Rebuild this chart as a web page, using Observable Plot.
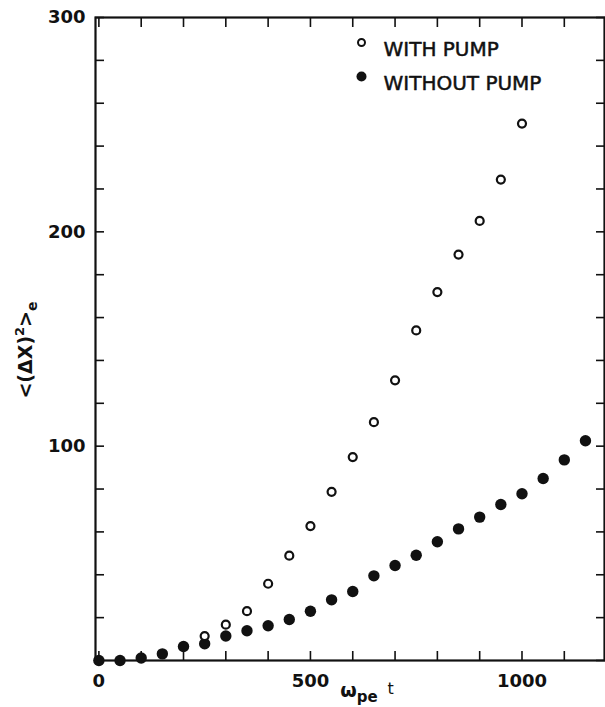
<!DOCTYPE html>
<html><head><meta charset="utf-8">
<script src="https://cdn.jsdelivr.net/npm/d3@7"></script>
<script src="https://cdn.jsdelivr.net/npm/@observablehq/plot@0.6"></script>
<style>body{margin:0;background:#fff}</style>
</head><body><div id="chart"></div>
<script>
// ω_pe t values and <(ΔX)^2>_e for each series
const withPumpT = [250, 300, 350, 400, 450, 500, 550, 600, 650, 700, 750, 800, 850, 900, 950, 1000];
const withPumpV = [11.4, 16.7, 23.0, 35.8, 48.9, 62.7, 78.7, 94.9, 111.2, 130.7, 154.0, 171.9, 189.4, 205.1, 224.4, 250.5];
const withoutPumpT = [0, 50, 100, 150, 200, 250, 300, 350, 400, 450, 500, 550, 600, 650, 700, 750, 800, 850, 900, 950, 1000, 1050, 1100, 1150];
const withoutPumpV = [0, 0, 1.2, 3.1, 6.5, 7.8, 11.4, 13.9, 16.2, 19.1, 23.0, 28.3, 32.2, 39.5, 44.3, 49.1, 55.4, 61.4, 66.9, 72.8, 77.8, 84.9, 93.6, 102.5];
const xTickLabels = [0, 500, 1000];
const yTickLabels = [100, 200, 300];
const legendLabels = ["WITH PUMP", "WITHOUT PUMP"];

const withPump = withPumpT.map((t, i) => ({t, v: withPumpV[i]}));
const withoutPump = withoutPumpT.map((t, i) => ({t, v: withoutPumpV[i]}));
const ink = "#111";
const blank = () => "";
const plain = d3.format("d");

const chart = Plot.plot({
  width: 605,
  height: 707,
  marginLeft: 95,
  marginRight: 1,
  marginTop: 17,
  marginBottom: 47,
  style: {fontFamily: "DejaVu Sans", fontWeight: "bold", fontSize: "18px", color: ink, background: "#fff"},
  x: {domain: [-8, 1195]},
  y: {domain: [0, 300]},
  marks: [
    Plot.axisX({anchor: "bottom", ticks: d3.range(0, 1201, 100), tickSize: -9, tickFormat: blank, label: null, strokeWidth: 1.6}),
    Plot.axisX({anchor: "top", ticks: d3.range(0, 1201, 100), tickSize: -9, tickFormat: blank, label: null, strokeWidth: 1.6}),
    Plot.axisY({anchor: "left", ticks: d3.range(0, 301, 20), tickSize: -9, tickFormat: blank, label: null, strokeWidth: 1.6}),
    Plot.axisY({anchor: "right", ticks: d3.range(0, 301, 20), tickSize: -9, tickFormat: blank, label: null, strokeWidth: 1.6}),
    Plot.axisX({anchor: "bottom", ticks: xTickLabels, tickSize: 0, tickPadding: 14, tickFormat: plain, label: null}),
    Plot.axisY({anchor: "left", ticks: yTickLabels, tickSize: 0, tickPadding: 10, tickFormat: plain, label: null}),
    Plot.frame({stroke: ink, strokeWidth: 2.2}),
    Plot.dot(withoutPump, {x: "t", y: "v", r: 5.7, fill: ink}),
    Plot.dot(withPump, {x: "t", y: "v", r: 4, stroke: ink, strokeWidth: 2.2, fill: "#fff"}),
    Plot.dot([legendLabels[0]], {frameAnchor: "top-left", dx: 266, dy: 25, r: 3.5, stroke: ink, strokeWidth: 2, fill: "#fff"}),
    Plot.dot([legendLabels[1]], {frameAnchor: "top-left", dx: 266, dy: 59, r: 5, fill: ink}),
    Plot.text([legendLabels[0]], {text: d => d, frameAnchor: "top-left", dx: 288, dy: 24, textAnchor: "start", fontSize: 20, fontWeight: "normal", fill: ink, stroke: ink, strokeWidth: 0.5}),
    Plot.text([legendLabels[1]], {text: d => d, frameAnchor: "top-left", dx: 288, dy: 58.5, textAnchor: "start", fontSize: 20, fontWeight: "normal", fill: ink, stroke: ink, strokeWidth: 0.5})
  ]
});

const svg = d3.select(chart);
// y-axis label <(ΔX)²>ₑ
const yl = svg.append("text")
  .attr("transform", "translate(32,350) rotate(-90)")
  .attr("text-anchor", "middle")
  .attr("fill", ink)
  .attr("font-family", "DejaVu Sans").attr("font-weight", "bold").attr("font-size", 19);
yl.append("tspan").text("<(ΔX)");
yl.append("tspan").attr("dy", -8).attr("font-size", 13).text("2");
yl.append("tspan").attr("dy", 8).text(">");
yl.append("tspan").attr("dy", 5).attr("font-size", 14).text("e");
// x-axis label ω_pe t
const xl = svg.append("text")
  .attr("x", 367).attr("y", 697)
  .attr("fill", ink)
  .attr("font-family", "DejaVu Sans").attr("font-weight", "bold").attr("font-size", 19);
xl.append("tspan").text("ω");
xl.append("tspan").attr("dy", 5).attr("font-size", 15).text("pe");
xl.append("tspan").attr("dx", 10).attr("dy", -8).attr("font-size", 16).attr("font-weight", "normal").text("t");

document.getElementById("chart").append(chart);
</script>
</body></html>
